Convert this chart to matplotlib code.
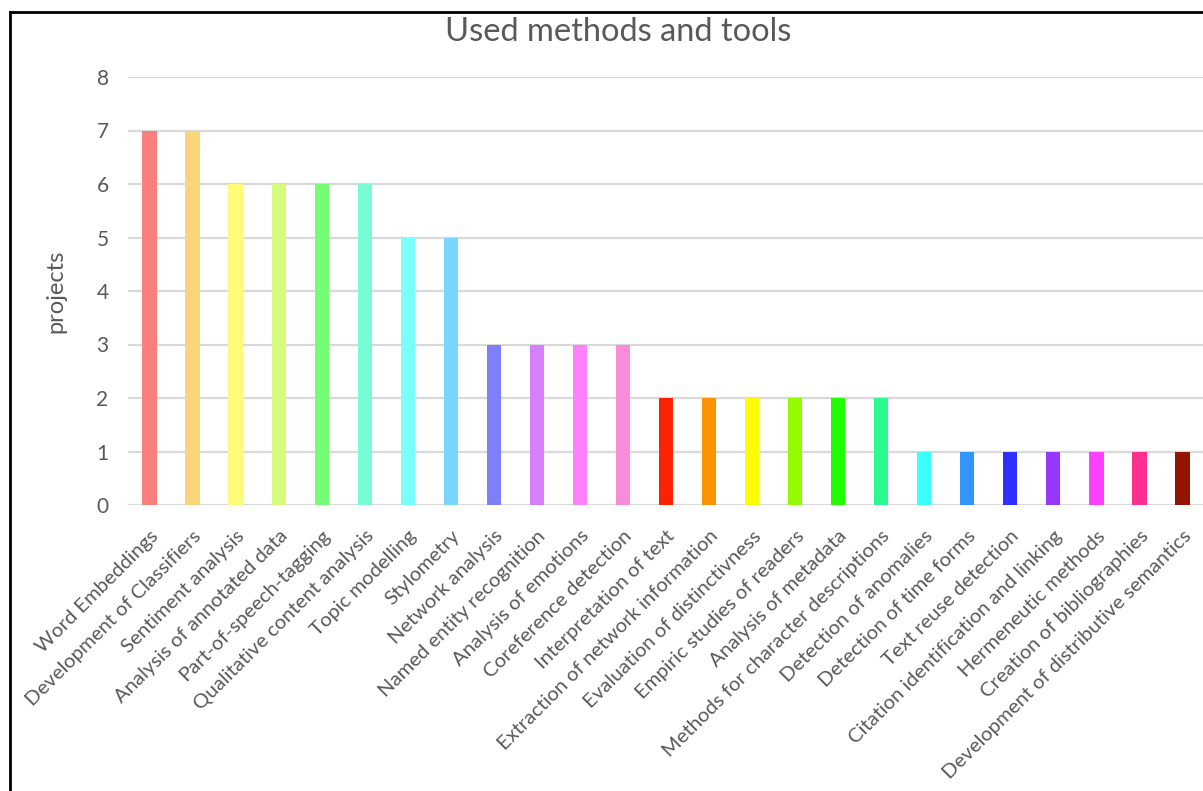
import matplotlib
matplotlib.use("Agg")
import matplotlib.pyplot as plt
from matplotlib.lines import Line2D

methods = [
    "Word Embeddings", "Development of Classifiers", "Sentiment analysis",
    "Analysis of annotated data", "Part-of-speech-tagging",
    "Qualitative content analysis", "Topic modelling", "Stylometry",
    "Network analysis", "Named entity recognition", "Analysis of emotions",
    "Coreference detection", "Interpretation of text",
    "Extraction of network information", "Evaluation of distinctivness",
    "Empiric studies of readers", "Analysis of metadata",
    "Methods for character descriptions", "Detection of anomalies",
    "Detection of time forms", "Text reuse detection",
    "Citation identification and linking", "Hermeneutic methods",
    "Creation of bibliographies", "Development of distributive semantics",
]
projects = [7, 7, 6, 6, 6, 6, 5, 5, 3, 3, 3, 3, 2, 2, 2, 2, 2, 2, 1, 1, 1, 1, 1, 1, 1]
colors = [
    "#F87F7B", "#FAD479", "#FCFC78", "#D6FA7B", "#74FC74", "#78FCD4",
    "#78FEFE", "#78D6FE", "#7F7FFC", "#D57FFA", "#FE80FA", "#F98BD9",
    "#FE2200", "#FB9300", "#FEFC00", "#93FB00", "#22FC00", "#28FA8D",
    "#3CFFFF", "#3396FF", "#2F2FFF", "#9838FF", "#FF40FF", "#FF2F90",
    "#931400",
]

plt.rcParams["font.family"] = ["Lato", "DejaVu Sans"]
grey = "#595959"

fig = plt.figure(figsize=(12.03, 7.91), dpi=100)
ax = fig.add_axes([128 / 1203, 1 - 505 / 791, 1076 / 1203, 428 / 791])

x = range(len(methods))
ax.bar(x, projects, width=0.33, color=colors, zorder=3)

ax.set_xlim(-0.5, len(methods) - 0.5)
ax.set_ylim(0, 8)
ax.set_yticks(range(0, 9))
ax.grid(axis="y", color="#d9d9d9", linewidth=1.6, zorder=0)
for s in ax.spines.values():
    s.set_visible(False)
ax.tick_params(axis="both", length=0, colors=grey, labelsize=15)
ax.tick_params(axis="y", pad=14)
ax.tick_params(axis="x", pad=16, labelsize=14.6)
ax.set_xticks(list(x))
ax.set_xticklabels(methods, rotation=45, ha="right", rotation_mode="anchor")
ax.set_ylabel("projects", color=grey, fontsize=17, labelpad=22)

fig.text(0.514, 0.959, "Used methods and tools", ha="center", va="center",
         fontsize=23.5, color=grey)

# black border of the screenshot (left and top)
fig.add_artist(Line2D([10 / 1203, 10 / 1203], [0, 1 - 12 / 791], color="black",
                      linewidth=2, transform=fig.transFigure))
fig.add_artist(Line2D([10 / 1203, 1], [1 - 12 / 791, 1 - 12 / 791], color="black",
                      linewidth=2, transform=fig.transFigure))

fig.savefig("out.png", dpi=100)
